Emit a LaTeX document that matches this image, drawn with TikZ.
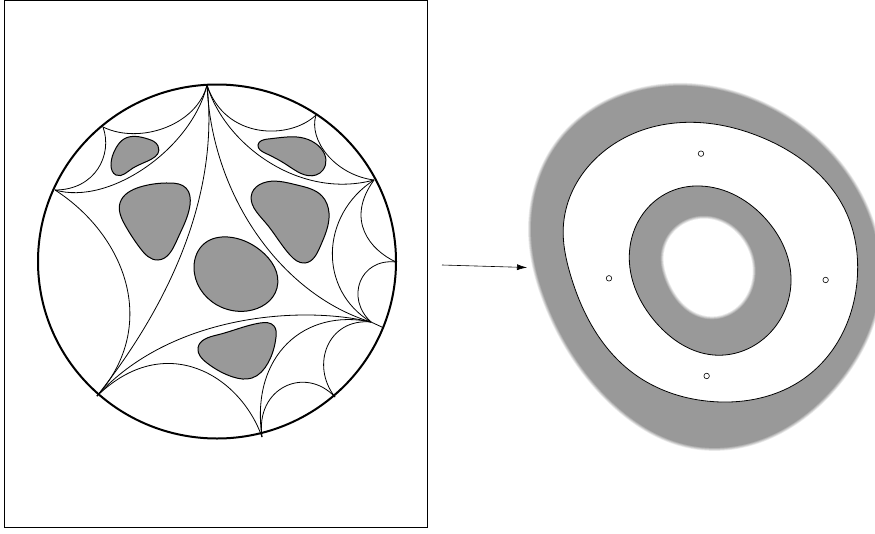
\documentclass[tikz,border=0pt]{standalone}
\usetikzlibrary{arrows.meta,hobby}
\definecolor{blobgray}{HTML}{999999}
\tikzset{
  arcline/.style={draw=black,line width=.8pt},
  blob/.style={draw=black,line width=1pt,fill=blobgray,use Hobby shortcut,closed=true},
  ring/.style={draw=black,line width=.8pt,use Hobby shortcut,closed=true},
  holemark/.style={circle,draw=black,fill=white,line width=.6pt,inner sep=0pt,minimum size=5.5pt},
}
% soft-edged region: colour #1 is the stroke mix, #2 the fill, #3 the path
\newcommand{\softregion}[3]{%
  \foreach \w/\m in {6/20,4.5/40,3/60,1.5/80}{
    \draw[#1!\m!#2,line width=\w pt,line join=round,use Hobby shortcut,closed=true] #3;
  }
  \fill[#1,use Hobby shortcut,closed=true] #3;
}
\begin{document}
\begin{tikzpicture}[x=1pt,y=-1pt]
\useasboundingbox (0,0) rectangle (875,533);
\draw[line width=.8pt] (4.5,.5) rectangle (427,527);
\draw[line width=2pt] (217,261.5) ellipse [x radius=179,y radius=177];
% vertices on the circle
\coordinate (vtop) at (207,85);
\coordinate (vul) at (103,127);
\coordinate (vleft) at (55,190);
\coordinate (vur) at (316,115);
\coordinate (vright) at (374,180);
\coordinate (veast) at (396,262);
\coordinate (vmeet) at (371,322);
\coordinate (vstub) at (384,328);
\coordinate (vlr) at (335,397);
\coordinate (vbot) at (262,437);
\coordinate (vll) at (97,396);
% arcs, left part
\draw[arcline] (vtop) .. controls (192,148) and (110,206) .. (vleft);
\draw[arcline] (vtop) .. controls (197,125) and (140,145) .. (vul);
\draw[arcline] (vul) .. controls (113,155) and (95,190) .. (vleft);
\draw[arcline] (vleft) .. controls (125,235) and (160,325) .. (vll);
\draw[arcline] (vtop) .. controls (220,200) and (165,310) .. (vll);
% arcs, right part
\draw[arcline] (vtop) .. controls (212,200) and (285,296) .. (vmeet);
\draw[arcline] (vtop) .. controls (225,140) and (290,140) .. (vur);
\draw[arcline] (vtop) .. controls (225,145) and (300,200) .. (vright);
\draw[arcline] (vur) .. controls (308,140) and (335,175) .. (vright);
\draw[arcline] (vright) .. controls (320,215) and (318,290) .. (vmeet);
\draw[arcline] (vright) .. controls (345,220) and (370,250) .. (veast);
\draw[arcline] (veast) .. controls (360,258) and (345,298) .. (vmeet);
\draw[arcline] (vmeet) -- (vstub);
% arcs, lower part
\draw[arcline] (vmeet) .. controls (300,305) and (170,315) .. (vll);
\draw[arcline] (vmeet) .. controls (305,308) and (250,355) .. (vbot);
\draw[arcline] (vmeet) .. controls (328,318) and (310,365) .. (vlr);
\draw[arcline] (vlr) .. controls (305,365) and (255,388) .. (vbot);
\draw[arcline] (vbot) .. controls (240,375) and (165,330) .. (vll);
% grey regions in the disc
\draw[blob] (124,139) .. (148,139) .. (158,146) .. (133,168) .. (116,175) .. (111,165) .. (116,148);
\draw[blob] (120,203) .. (140,187) .. (170,183) .. (186,188) .. (190,205) .. (177,240) .. (158,260) .. (140,248) .. (125,225);
\draw[blob] (258,145) .. (268,139) .. (297,137) .. (323,170) .. (316,175) .. (287,165) .. (265,153);
\draw[blob] (252,193) .. (263,183) .. (297,185) .. (322,196) .. (329,213) .. (320,247) .. (305,263) .. (290,255) .. (265,222);
\draw[blob] (194,267) .. (205,243) .. (228,237) .. (260,250) .. (277,288) .. (247,311) .. (217,305);
\draw[blob] (198,348) .. (217,335) .. (260,323) .. (274,326) .. (276,337) .. (268,363) .. (252,378) .. (233,377) .. (207,363);
% arrow
\coordinate (arrowtail) at (442,265);
\coordinate (arrowhead) at (527,267.5);
\draw[-{Latex[length=10pt,width=6pt]},line width=.6pt] (arrowtail) -- (arrowhead);
% right part
\begin{scope}[shift={(520,70)},x=.3333pt,y=-.3333pt]
\softregion{blobgray}{white}{(430,50) .. (760,120) .. (1010,360) .. (1078,650) .. (960,930) .. (530,1130) .. (280,1000) .. (80,700) .. (35,520) .. (130,200)}
\draw[ring,fill=white] (130,470) .. (320,200) .. (500,157) .. (720,200) .. (980,430) .. (1013,600) .. (860,920) .. (580,995) .. (340,910) .. (150,610);
\draw[ring,fill=blobgray] (330,530) .. (450,365) .. (540,348) .. (740,450) .. (813,620) .. (720,815) .. (580,855) .. (410,760);
\softregion{white}{blobgray}{(432,550) .. (540,447) .. (680,530) .. (698,600) .. (620,730) .. (560,738) .. (445,630)}
\node[holemark] (marktop) at (543,251) {};
\node[holemark] (markleft) at (267,625) {};
\node[holemark] (markright) at (917,630) {};
\node[holemark] (markbot) at (560,918) {};
\end{scope}
\end{tikzpicture}
\end{document}
